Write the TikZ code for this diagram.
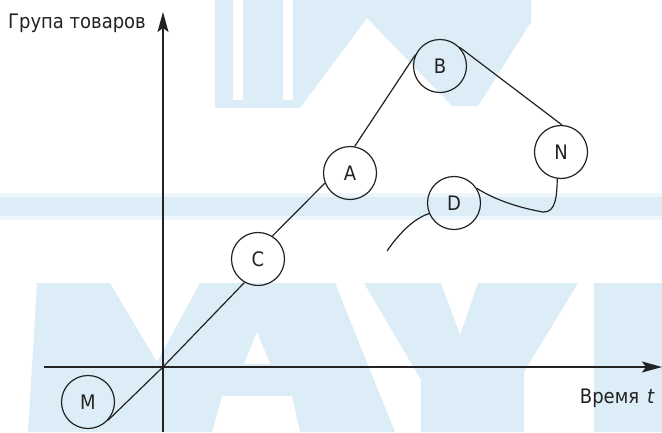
\documentclass[tikz,border=0pt]{standalone}
\usepackage{fontspec}
\setmainfont{DejaVu Sans Condensed}
\usetikzlibrary{arrows.meta}
\definecolor{wm}{RGB}{221,237,248}
\definecolor{ink}{RGB}{34,34,34}
\begin{document}
\begin{tikzpicture}[x=1pt,y=-1pt,
  state/.style={circle,draw=ink,line width=1.2pt,minimum size=53pt,inner sep=0pt,font=\fontsize{20}{24}\selectfont,text=ink},
  conn/.style={draw=ink,line width=1.2pt},
  axis/.style={draw=ink,line width=1.3pt,-{Stealth[length=20pt,width=11pt,inset=4pt]}},
  lbl/.style={font=\fontsize{20}{24}\selectfont,text=ink,inner sep=0pt},
  wmark/.style={fill=wm,draw=none}]
\useasboundingbox (0,0) rectangle (662,432);
\fill[white] (0,0) rectangle (662,432);
% watermark
\fill[wmark] (215,0) -- (531,0) -- (531,22) -- (478,106) -- (452,106) -- (367,18) -- (300,108) -- (215,108) -- cycle;
\fill[white] (233,0) rectangle (243,100);
\fill[white] (283,0) rectangle (293,100);
\fill[wm!50] (0,193) rectangle (662,220);
\fill[wmark] (0,197) rectangle (662,216);
\fill[wmark] (37,283) -- (110,283) -- (157,362) -- (200,283) -- (335,283) -- (395,432) -- (300,432) -- (292,396) -- (222,396) -- (212,432) -- (28,432) -- cycle;
\fill[white] (257,332) -- (270,364) -- (244,364) -- cycle;
\fill[wmark] (364,283) -- (441,283) -- (460,335) -- (478,283) -- (578,283) -- (524,372) -- (524,432) -- (421,432) -- (421,380) -- cycle;
\fill[wmark] (594,283) rectangle (662,432);
% axes
\coordinate (ybot) at (163,432);
\coordinate (ytop) at (163,12);
\coordinate (xl) at (44,367);
\coordinate (xr) at (662,367);
\coordinate (O) at (163,367);
\draw[axis] (ybot) -- (ytop);
\draw[axis] (xl) -- (xr);
% labels
\node[lbl,anchor=base west] (ylab) at (8,28) {Група товаров};
\node[lbl,anchor=base east] (xlab) at (655,403) {Время\hspace{8pt}\textit{t}};
% states
\node[state] (M) at (88,402) {M};
\node[state] (C) at (258,259) {C};
\node[state] (A) at (350,173) {A};
\node[state] (B) at (440,66) {B};
\node[state] (N) at (561,152) {N};
\node[state] (D) at (454,203) {D};
% connectors
\draw[conn] (M.-42) -- (O) -- (C.240);
\draw[conn] (C.58) -- (A.202);
\draw[conn] (A.80) -- (B.155);
\draw[conn] (B.44) -- (N.88);
\draw[conn] (N.262) .. controls (557,195) and (556,213) .. (543,212) .. controls (520,208) and (495,200) .. (D.33);
\coordinate (Dend) at (387,251);
\draw[conn] (D.203) .. controls (415,218) and (400,232) .. (Dend);
\end{tikzpicture}
\end{document}
